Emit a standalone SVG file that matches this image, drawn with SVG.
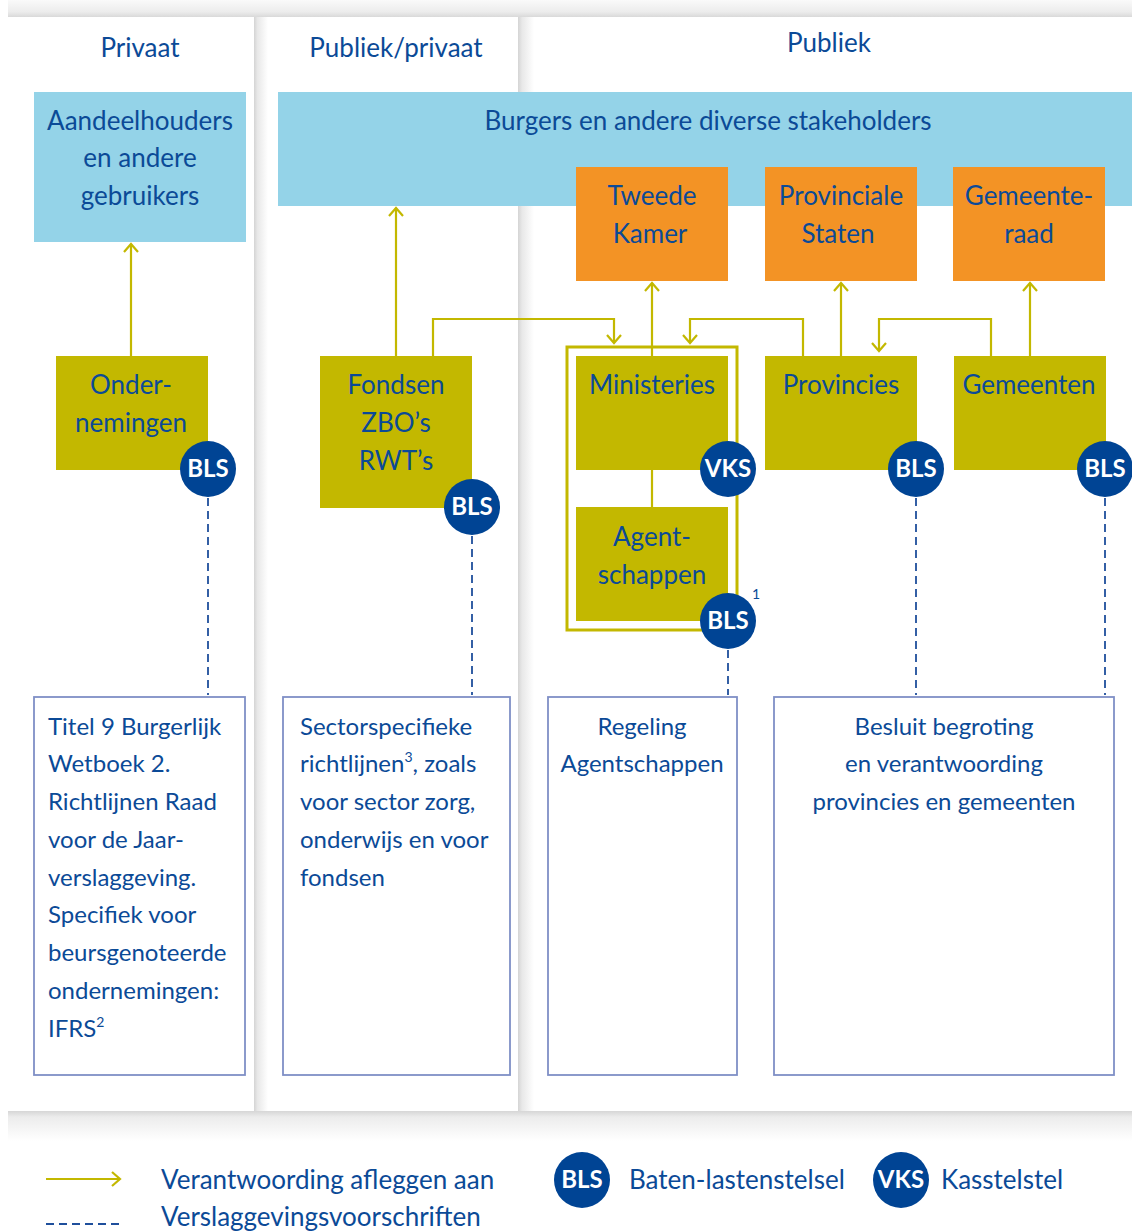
<svg xmlns="http://www.w3.org/2000/svg" width="1132" height="1232" viewBox="0 0 1132 1232">
<defs>
<linearGradient id="gTop" x1="0" y1="0" x2="0" y2="1"><stop offset="0" stop-color="#fafafa"/><stop offset="0.7" stop-color="#ececec"/><stop offset="1" stop-color="#d9d9d9"/></linearGradient>
<linearGradient id="gV" x1="0" y1="0" x2="1" y2="0"><stop offset="0" stop-color="#d4d4d4"/><stop offset="0.25" stop-color="#e8e8e8"/><stop offset="1" stop-color="#ffffff"/></linearGradient>
<linearGradient id="gB" x1="0" y1="0" x2="0" y2="1"><stop offset="0" stop-color="#d6d6d6"/><stop offset="0.2" stop-color="#ececec"/><stop offset="1" stop-color="#ffffff"/></linearGradient>
<marker id="arr" markerUnits="userSpaceOnUse" markerWidth="20" markerHeight="20" refX="10" refY="10" orient="auto">
<path d="M2,3 L10,10 L2,17" fill="none" stroke="#c3b800" stroke-width="2.2"/>
</marker>
</defs>
<style>
.t{font-family:Lato,"Noto Sans",sans-serif;fill:#0b4a97;font-size:26px}
.s{font-size:24px}
.c{text-anchor:middle}
.lb{fill:#94d3e8}
.or{fill:#f39325}
.ol{fill:#c3b800}
.flow{fill:none;stroke:#c3b800;stroke-width:2.2}
.dash{fill:none;stroke:#1f4f9c;stroke-width:1.8;stroke-dasharray:8,5}
.box{fill:#fff;stroke:#7f8fc6;stroke-width:1.8}
.bad{fill:#004494}
.bt{font-family:Lato,"Noto Sans",sans-serif;font-weight:bold;fill:#fff;font-size:24px;text-anchor:middle}
</style>
<rect width="1132" height="1232" fill="#fff"/>
<g id="background">
<rect x="8" y="0" width="1124" height="17" fill="url(#gTop)"/>
<rect x="254" y="17" width="14" height="1095" fill="url(#gV)"/>
<rect x="518" y="17" width="16" height="1095" fill="url(#gV)"/>
<rect x="8" y="1111" width="1124" height="30" fill="url(#gB)"/>
</g>
<g id="headers">
<text class="t c" x="140" y="57">Privaat</text>
<text class="t c" x="396" y="57">Publiek/privaat</text>
<text class="t c" x="829" y="52">Publiek</text>
</g>
<g id="aandeelhouders"><rect class="lb" x="34" y="92" width="212" height="150"/>
<text class="t c" x="140" y="130">Aandeelhouders</text><text class="t c" x="140" y="167">en andere</text><text class="t c" x="140" y="205">gebruikers</text></g>
<g id="burgers"><rect class="lb" x="278" y="92" width="854" height="114"/>
<text class="t c" x="708" y="130">Burgers en andere diverse stakeholders</text></g>
<g id="tweede-kamer"><rect class="or" x="576" y="167" width="152" height="114"/>
<text class="t c" x="652" y="205">Tweede</text><text class="t c" x="650" y="243">Kamer</text></g>
<g id="provinciale-staten"><rect class="or" x="765" y="167" width="152" height="114"/>
<text class="t c" x="841" y="205">Provinciale</text><text class="t c" x="838" y="243">Staten</text></g>
<g id="gemeenteraad"><rect class="or" x="953" y="167" width="152" height="114"/>
<text class="t c" x="1029" y="205">Gemeente-</text><text class="t c" x="1029" y="243">raad</text></g>
<g id="connectors">
<path class="flow" d="M131,356 V244" marker-end="url(#arr)"/>
<path class="flow" d="M396,356 V208" marker-end="url(#arr)"/>
<path class="flow" d="M433,356 V319 H614 V343" marker-end="url(#arr)"/>
<path class="flow" d="M652,356 V283" marker-end="url(#arr)"/>
<path class="flow" d="M803,356 V319 H690 V343" marker-end="url(#arr)"/>
<path class="flow" d="M841,356 V283" marker-end="url(#arr)"/>
<path class="flow" d="M991,356 V319 H879 V351" marker-end="url(#arr)"/>
<path class="flow" d="M1030,356 V283" marker-end="url(#arr)"/>
<path class="flow" d="M652,470 V507"/>
<rect x="567" y="347" width="170" height="283" fill="none" stroke="#c3b800" stroke-width="3"/>
<path class="dash" d="M208,498 V695"/>
<path class="dash" d="M472,536 V695"/>
<path class="dash" d="M728,650 V695"/>
<path class="dash" d="M916,498 V695"/>
<path class="dash" d="M1105,498 V695"/>
</g>
<g id="ondernemingen"><rect class="ol" x="56" y="356" width="152" height="114"/>
<text class="t c" x="131" y="394">Onder-</text><text class="t c" x="131" y="432">nemingen</text>
<circle class="bad" cx="208" cy="469" r="28"/><text class="bt" x="208" y="477">BLS</text></g>
<g id="fondsen"><rect class="ol" x="320" y="356" width="152" height="152"/>
<text class="t c" x="396" y="394">Fondsen</text><text class="t c" x="396" y="432">ZBO’s</text><text class="t c" x="396" y="470">RWT’s</text>
<circle class="bad" cx="472" cy="507" r="28"/><text class="bt" x="472" y="515">BLS</text></g>
<g id="ministeries"><rect class="ol" x="576" y="356" width="152" height="114"/>
<text class="t c" x="652" y="394">Ministeries</text>
<circle class="bad" cx="728" cy="469" r="28"/><text class="bt" x="728" y="477">VKS</text></g>
<g id="agentschappen"><rect class="ol" x="576" y="507" width="152" height="114"/>
<text class="t c" x="652" y="546">Agent-</text><text class="t c" x="652" y="584">schappen</text>
<circle class="bad" cx="728" cy="621" r="28"/><text class="bt" x="728" y="629">BLS</text>
<text class="t" x="752" y="599" style="font-size:14px">1</text></g>
<g id="provincies"><rect class="ol" x="765" y="356" width="152" height="114"/>
<text class="t c" x="841" y="394">Provincies</text>
<circle class="bad" cx="916" cy="469" r="28"/><text class="bt" x="916" y="477">BLS</text></g>
<g id="gemeenten"><rect class="ol" x="954" y="356" width="152" height="114"/>
<text class="t c" x="1029" y="394">Gemeenten</text>
<circle class="bad" cx="1105" cy="469" r="28"/><text class="bt" x="1105" y="477">BLS</text></g>
<g id="box-bw"><rect class="box" x="34" y="697" width="211" height="378"/>
<text class="t s" x="48" y="735">Titel 9 Burgerlijk</text><text class="t s" x="48" y="772">Wetboek 2.</text><text class="t s" x="48" y="810">Richtlijnen Raad</text><text class="t s" x="48" y="848">voor de Jaar-</text><text class="t s" x="48" y="886">verslaggeving.</text><text class="t s" x="48" y="923">Specifiek voor</text><text class="t s" x="48" y="961">beursgenoteerde</text><text class="t s" x="48" y="999">ondernemingen:</text><text class="t s" x="48" y="1037">IFRS<tspan dy="-10" style="font-size:14px">2</tspan></text></g>
<g id="box-sector"><rect class="box" x="283" y="697" width="227" height="378"/>
<text class="t s" x="300" y="735">Sectorspecifieke</text><text class="t s" x="300" y="772">richtlijnen<tspan dy="-10" style="font-size:14px">3</tspan><tspan dy="10">, zoals</tspan></text><text class="t s" x="300" y="810">voor sector zorg,</text><text class="t s" x="300" y="848">onderwijs en voor</text><text class="t s" x="300" y="886">fondsen</text></g>
<g id="box-regeling"><rect class="box" x="548" y="697" width="189" height="378"/>
<text class="t s c" x="642" y="735">Regeling</text><text class="t s c" x="642" y="772">Agentschappen</text></g>
<g id="box-besluit"><rect class="box" x="774" y="697" width="340" height="378"/>
<text class="t s c" x="944" y="735">Besluit begroting</text><text class="t s c" x="944" y="772">en verantwoording</text><text class="t s c" x="944" y="810">provincies en gemeenten</text></g>
<g id="legend">
<path class="flow" d="M46,1179 H120" marker-end="url(#arr)"/>
<text class="t" x="161" y="1189">Verantwoording afleggen aan</text>
<path class="dash" d="M46,1224 H124"/>
<text class="t" x="161" y="1226">Verslaggevingsvoorschriften</text>
<circle class="bad" cx="582" cy="1180" r="28"/><text class="bt" x="582" y="1188">BLS</text>
<text class="t" x="629" y="1189">Baten-lastenstelsel</text>
<circle class="bad" cx="901" cy="1180" r="28"/><text class="bt" x="901" y="1188">VKS</text>
<text class="t" x="941" y="1189">Kasstelstel</text>
</g>
</svg>
